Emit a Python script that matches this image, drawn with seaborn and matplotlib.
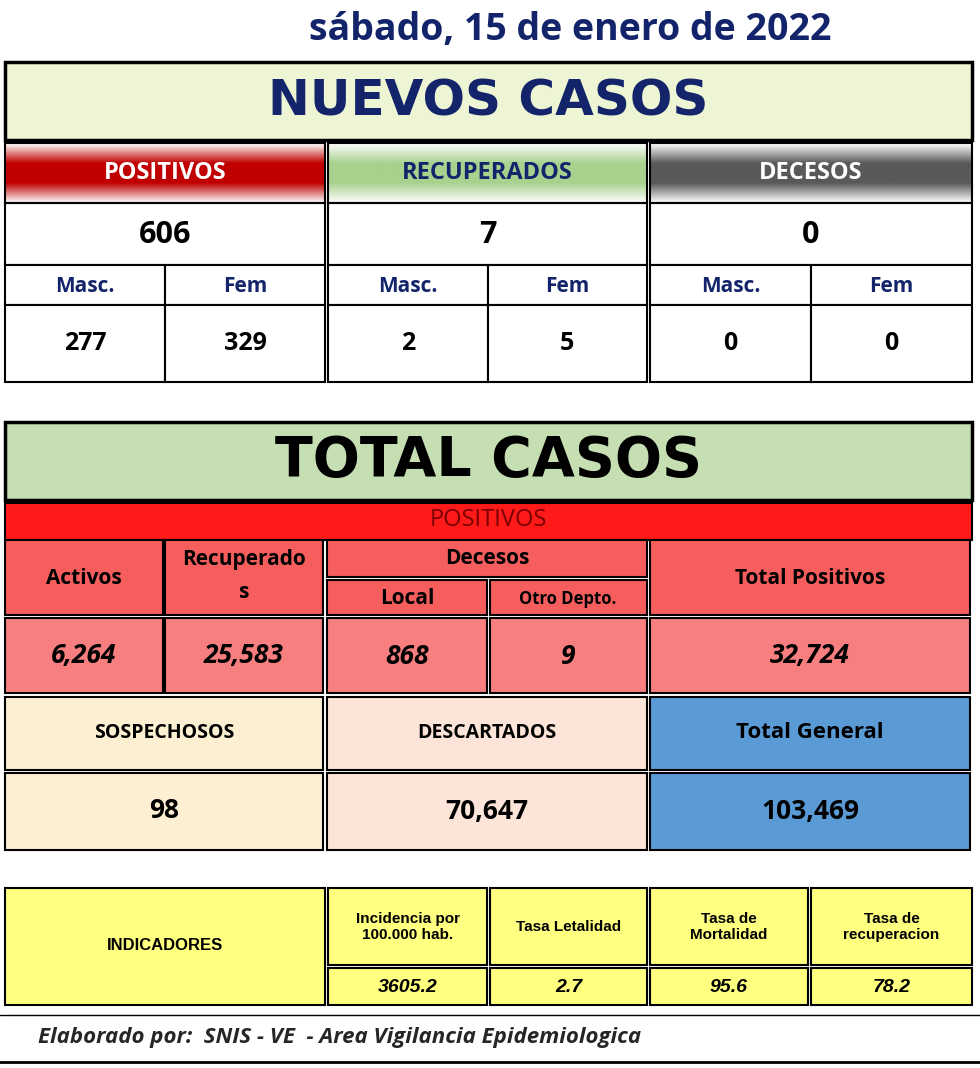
import numpy as np
import matplotlib
matplotlib.use("Agg")
import matplotlib.pyplot as plt
import seaborn as sns
from matplotlib.patches import Rectangle
from matplotlib.colors import LinearSegmentedColormap

sns.set_theme(style="white")
plt.rcParams['font.family'] = ['Open Sans', 'DejaVu Sans']

fecha = "sábado, 15 de enero de 2022"
nuevos_cat = ["POSITIVOS", "RECUPERADOS", "DECESOS"]
nuevos_tot = ["606", "7", "0"]
nuevos_masc = ["277", "2", "0"]
nuevos_fem = ["329", "5", "0"]
tot_pos_vals = ["6,264", "25,583", "868", "9", "32,724"]
otros_cat = ["SOSPECHOSOS", "DESCARTADOS", "Total General"]
otros_vals = ["98", "70,647", "103,469"]
ind_cat = ["Incidencia por\n100.000 hab.", "Tasa Letalidad", "Tasa de\nMortalidad", "Tasa de\nrecuperacion"]
ind_vals = ["3605.2", "2.7", "95.6", "78.2"]
footer = "Elaborado por:  SNIS - VE  - Area Vigilancia Epidemiologica"

fig = plt.figure(figsize=(9.8, 10.68), dpi=100)
ax = fig.add_axes([0, 0, 1, 1])
ax.set_xlim(0, 980); ax.set_ylim(1068, 0); ax.axis("off")
NAVY = "#13246b"

def cell(x0, y0, x1, y1, fc="white", lw=1.5):
    ax.add_patch(Rectangle((x0, y0), x1-x0, y1-y0, facecolor=fc, edgecolor="black", lw=lw))

def txt(x, y, s, size=16, color="black", weight="bold", style="normal", family=None, **kw):
    ax.text(x, y, s, fontsize=size, color=color, fontweight=weight, fontstyle=style,
            ha="center", va="center", family=family or ['Open Sans', 'DejaVu Sans'], **kw)

def grad(x0, y0, x1, y1, c):
    cmap = LinearSegmentedColormap.from_list("g", ["#ffffff", c, c, "#ffffff"])
    g = np.linspace(0, 1, 100).reshape(-1, 1)
    ax.imshow(g, cmap=cmap, extent=(x0, x1, y1, y0), aspect="auto", zorder=1)
    ax.add_patch(Rectangle((x0, y0), x1-x0, y1-y0, fill=False, edgecolor="black", lw=1.5, zorder=2))

txt(570, 30, fecha, size=27, color=NAVY)

# Box 1
cols = [(5, 325), (328, 647), (650, 972)]
cell(5, 62, 972, 140, "#eef5d4", lw=2.5)
txt(488, 102, "NUEVOS CASOS", size=36, color=NAVY, weight="heavy", family=['DejaVu Sans'])
hdr_cols = ["#c00000", "#a9d18e", "#595959"]
hdr_txt = ["white", NAVY, "white"]
for i, (a, b) in enumerate(cols):
    grad(a, 143, b, 203, hdr_cols[i])
    txt((a+b)/2, 173, nuevos_cat[i], size=17, color=hdr_txt[i])
    cell(a, 203, b, 265)
    txt((a+b)/2, 235, nuevos_tot[i], size=22)
    m = (a+b)/2
    cell(a, 265, m, 305); cell(m, 265, b, 305)
    txt((a+m)/2, 286, "Masc.", size=15, color=NAVY); txt((m+b)/2, 286, "Fem", size=15, color=NAVY)
    cell(a, 305, m, 382); cell(m, 305, b, 382)
    txt((a+m)/2, 344, nuevos_masc[i], size=18); txt((m+b)/2, 344, nuevos_fem[i], size=18)

# Box 2
cell(5, 422, 972, 500, "#c5dfb2", lw=2.5)
txt(488, 461, "TOTAL CASOS", size=40, weight="heavy", family=['DejaVu Sans'])
cell(5, 503, 972, 540, "#ff1a1a")
txt(488, 520, "POSITIVOS", size=17, color="#7a0000", weight="normal")
SAL = "#f65e5e"
cell(5, 540, 163, 615, SAL); txt(84, 578, "Activos", size=15)
cell(165, 540, 323, 615, SAL); txt(244, 576, "Recuperado\ns", size=15, linespacing=1.8)
cell(327, 540, 647, 577, SAL); txt(487, 559, "Decesos", size=15)
cell(327, 580, 487, 615, SAL); txt(407, 599, "Local", size=15)
cell(490, 580, 647, 615, SAL); txt(568, 599, "Otro Depto.", size=12)
cell(650, 540, 970, 615, SAL); txt(810, 578, "Total Positivos", size=15)
vcols = [(5, 163), (165, 323), (327, 487), (490, 647), (650, 970)]
for (a, b), v in zip(vcols, tot_pos_vals):
    cell(a, 618, b, 693, "#f77f7f")
    txt((a+b)/2, 656, v, size=19, style="italic")
ocols = [(5, 323), (327, 647), (650, 970)]
ofc = ["#fdf0d2", "#fce4d8", "#5b9bd5"]
for (a, b), c, v, f in zip(ocols, otros_cat, otros_vals, ofc):
    cell(a, 697, b, 770, f); txt((a+b)/2, 733, c, size=14 if c != "Total General" else 16)
    cell(a, 773, b, 850, f); txt((a+b)/2, 811, v, size=19)

# Box 3
YEL = "#ffff80"
cell(5, 888, 325, 1005, YEL); txt(165, 945, "INDICADORES", size=12, family=['Liberation Sans'])
icols = [(328, 487), (490, 647), (650, 808), (811, 972)]
for (a, b), c, v in zip(icols, ind_cat, ind_vals):
    cell(a, 888, b, 965, YEL); txt((a+b)/2, 927, c, size=11, family=['Liberation Sans'])
    cell(a, 968, b, 1005, YEL); txt((a+b)/2, 987, v, size=14, style="italic", family=['Liberation Sans'])

ax.plot([0, 980], [1015, 1015], color="black", lw=1)
ax.text(38, 1037, footer, fontsize=16, fontweight="bold", fontstyle="italic", ha="left", va="center")
ax.plot([0, 980], [1062, 1062], color="black", lw=2)

fig.savefig("out.png", dpi=100)
